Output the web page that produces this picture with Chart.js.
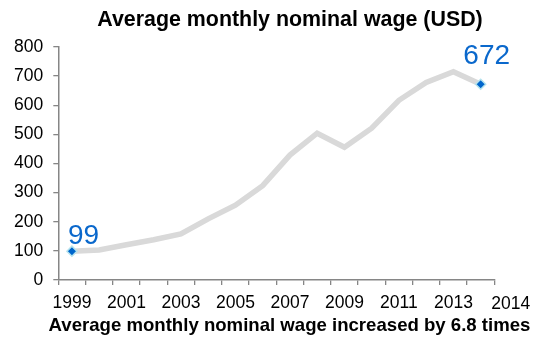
<!DOCTYPE html>
<html>
<head>
<meta charset="utf-8">
<script src="https://cdn.jsdelivr.net/npm/chart.js@4"></script>
<style>
  html, body { margin: 0; padding: 0; background: #fff; overflow: hidden; }
  #wrap { width: 534px; height: 338px; }
</style>
</head>
<body>
<div id="wrap"><canvas id="c"></canvas></div>
<script>
// Average monthly nominal wage, USD
const years = ['1999','2000','2001','2002','2003','2004','2005','2006','2007','2008','2009','2010','2011','2012','2013','2014'];
const wages = [99, 103, 121, 138, 158, 210, 257, 324, 429, 504, 456, 521, 617, 678, 715, 672];
const yTicks = [0, 100, 200, 300, 400, 500, 600, 700, 800];
const axisEndLabel = '2014';
const titleText = 'Average monthly nominal wage (USD)';
const captionText = 'Average monthly nominal wage increased by 6.8 times';

const FONT = "'Liberation Sans', Arial, sans-serif";
const AXIS_COLOR = '#868686';
const LABEL_BLUE = '#0a68cc';

const lastIdx = wages.length - 1;
const markerRadius = wages.map((v, i) => (i === 0 || i === lastIdx) ? 5 : 0);

const annotations = {
  id: 'annotations',
  afterDraw(chart) {
    const { ctx, chartArea, scales } = chart;
    const xs = scales.x;
    const meta = chart.getDatasetMeta(0);
    ctx.save();
    ctx.fillStyle = '#000';
    // title
    ctx.font = `bold 21.4px ${FONT}`;
    ctx.textAlign = 'center';
    ctx.textBaseline = 'middle';
    ctx.fillText(titleText, 290, 20);
    // caption under the axis
    ctx.font = `bold 18.6px ${FONT}`;
    ctx.fillText(captionText, 289.5, 326);
    // label past the end of the category axis
    ctx.font = `17.5px ${FONT}`;
    ctx.fillText(axisEndLabel, xs.right + 16.5, chartArea.bottom + 24);
    // first and last values
    ctx.fillStyle = LABEL_BLUE;
    ctx.font = `28px ${FONT}`;
    ctx.textBaseline = 'alphabetic';
    const p0 = meta.data[0];
    ctx.textAlign = 'left';
    ctx.fillText(String(wages[0]), p0.x - 4, p0.y - 7);
    const pN = meta.data[lastIdx];
    ctx.textAlign = 'center';
    ctx.fillText(String(wages[lastIdx]), pN.x + 6, pN.y - 20.5);
    ctx.restore();
  }
};

new Chart(document.getElementById('c'), {
  type: 'line',
  data: {
    labels: years,
    datasets: [{
      data: wages,
      borderColor: '#d9d9d9',
      borderWidth: 5.5,
      tension: 0,
      borderJoinStyle: 'miter',
      pointStyle: 'rectRot',
      pointRadius: markerRadius,
      pointHoverRadius: markerRadius,
      pointBackgroundColor: '#0066cc',
      pointBorderColor: '#b5e3ee',
      pointBorderWidth: 1.5
    }]
  },
  options: {
    responsive: true,
    maintainAspectRatio: false,
    animation: false,
    events: [],
    layout: { padding: { top: 47, bottom: 28, left: 0, right: 39.7 } },
    plugins: {
      legend: { display: false },
      title: { display: false },
      tooltip: { enabled: false }
    },
    scales: {
      x: {
        type: 'category',
        offset: true,
        afterFit(scale) { scale.height = 30; },
        grid: {
          offset: true,
          drawOnChartArea: false,
          drawTicks: true,
          tickLength: 5,
          color: AXIS_COLOR,
          lineWidth: 1.3
        },
        border: { display: true, color: AXIS_COLOR, width: 1.5 },
        ticks: {
          autoSkip: false,
          maxRotation: 0,
          padding: 8,
          color: '#000',
          font: { family: FONT, size: 17.5 },
          callback(value, index) { return index % 2 === 0 ? years[index] : ''; }
        }
      },
      y: {
        min: yTicks[0],
        max: yTicks[yTicks.length - 1],
        afterFit(scale) { scale.width = 58.3; },
        afterBuildTicks(scale) { scale.ticks = yTicks.map(v => ({ value: v })); },
        grid: {
          drawOnChartArea: false,
          drawTicks: true,
          tickLength: 5,
          color: AXIS_COLOR,
          lineWidth: 1.3
        },
        border: { display: true, color: AXIS_COLOR, width: 1.5 },
        ticks: {
          padding: 10,
          color: '#000',
          font: { family: FONT, size: 17.5 }
        }
      }
    }
  },
  plugins: [annotations]
});
</script>
</body>
</html>
